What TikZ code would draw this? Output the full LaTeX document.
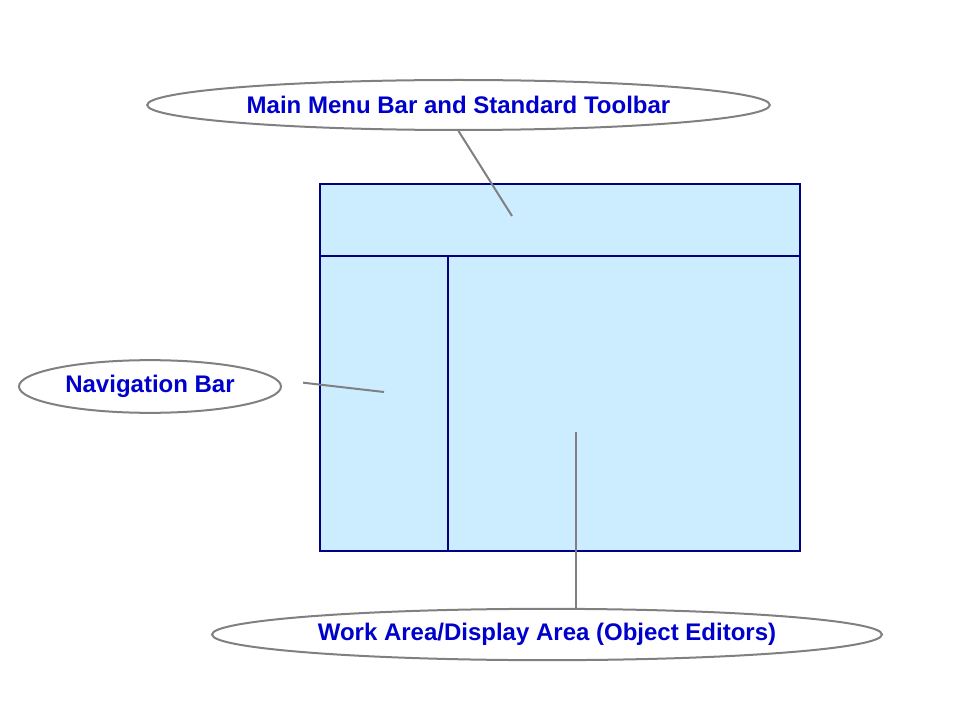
\documentclass[tikz,border=0pt]{standalone}
\usepackage{fontspec}
\setmainfont{Liberation Sans}
\usepackage{xcolor}
\usetikzlibrary{shapes.geometric,calc}

\definecolor{paneblue}{HTML}{CCECFF}
\definecolor{panenavy}{HTML}{000080}
\definecolor{labelblue}{HTML}{0000CC}
\definecolor{calloutgray}{HTML}{808080}

\begin{document}
\begin{tikzpicture}[
    x=0.75pt, y=-0.75pt,
    pane/.style={draw=panenavy, line width=1.5pt, fill=paneblue},
    callout/.style={ellipse, draw=calloutgray, line width=1.5pt, fill=white, inner sep=0pt,
        font=\fontsize{18}{21}\selectfont\bfseries, text=labelblue},
    pointer/.style={draw=calloutgray, line width=1.5pt}
]
    \useasboundingbox (0,0) rectangle (960,720);

    % window panes
    \draw[pane] (320,184) rectangle (800,551);
    \draw[pane] (320,256) -- (800,256);
    \draw[pane] (448,256) -- (448,551);

    % callouts
    \node[callout, minimum width=467pt, minimum height=37.5pt] (menu) at (458.5,105) {Main Menu Bar and Standard Toolbar};
    \node[callout, minimum width=196.5pt, minimum height=39.5pt] (nav) at (150,386.5) {Navigation Bar};
    \node[callout, minimum width=502.5pt, minimum height=38.5pt] (work) at (547,634.5) {Work Area/Display Area (Object Editors)};

    \coordinate (menuPt) at (512,216);
    \coordinate (navPt) at (384,392);
    \coordinate (workPt) at (576,432);

    \draw[pointer] (menu.south) -- (menuPt);
    \draw[pointer, shorten <=19pt] (nav.3) -- (navPt);
    \draw[pointer] (workPt |- work.north) -- (workPt);
\end{tikzpicture}
\end{document}
